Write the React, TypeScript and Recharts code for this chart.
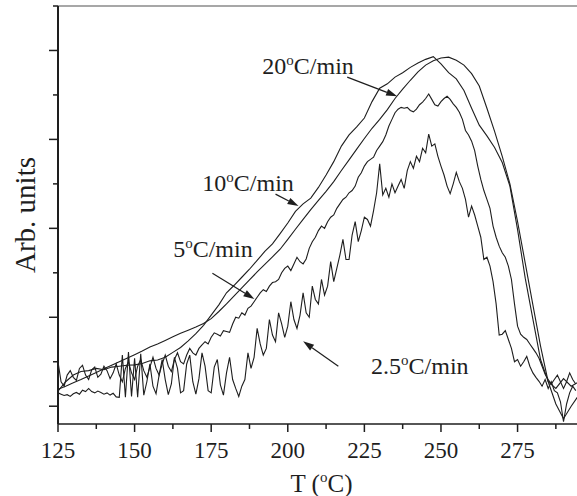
import { LineChart, Line, XAxis, YAxis, ReferenceLine, ReferenceDot } from 'recharts'

const FONT = '"Liberation Serif", "Times New Roman", Times, serif'
const INK = '#1e1e1e'

const T_START = 125

// 2.5 °C/min, one reading per °C from 125 °C
const rate25 = [
  0.30, 0.27, 0.24, 0.26, 0.22, 0.28, 0.31, 0.27, 0.36, 0.33,
  0.40, 0.33, 0.30, 0.34, 0.31, 0.27, 0.30, 0.25, 0.29, 0.21,
  0.20, 1.15, 0.20, 1.22, 0.22, 1.08, 0.20, 1.18, 0.25, 0.55,
  0.95, 0.45, 0.28, 0.70, 1.05, 0.60, 0.26, 0.50, 1.10, 0.85,
  0.30, 0.35, 0.95, 1.15, 0.55, 0.27, 0.62, 1.20, 0.90, 0.35,
  0.30, 0.88, 1.05, 0.48, 0.25, 0.75, 1.10, 0.60, 0.40, 0.22,
  0.45, 0.60, 1.20, 0.85, 1.10, 1.75, 1.40, 1.15, 1.30, 1.95,
  1.60, 1.45, 2.10, 1.85, 1.55, 1.80, 2.35, 1.95, 1.75, 2.05,
  2.55, 2.10, 2.00, 2.70, 2.40, 2.30, 2.85, 2.50, 2.70, 3.25,
  2.80, 3.10, 3.40, 3.75, 3.30, 3.30, 3.85, 4.15, 3.70, 3.95,
  4.25, 4.20, 4.05, 4.40, 4.80, 5.45, 4.75, 4.90, 4.70, 5.00,
  4.80, 4.95, 5.10, 4.90, 5.30, 5.50, 5.35, 5.62, 5.50, 5.80,
  5.70, 6.12, 5.85, 5.90, 5.62, 5.40, 5.20, 4.95, 4.78, 5.00,
  5.26, 5.05, 4.90, 4.65, 4.25, 4.50, 4.30, 4.05, 3.80, 3.30,
  3.35, 3.15, 2.80, 2.30, 1.60, 1.62, 1.70, 1.50, 1.30, 1.00,
  1.05, 0.90, 1.00, 1.12, 0.90, 0.75, 0.65, 0.56, 0.45, 0.60,
  0.40, 0.55, 0.35, 0.30, 0.10, -0.35, 0.05, 0.30, 0.45, 0.35,
]

// 5 °C/min, one reading per °C from 125 °C
const rate5 = [
  1.00, 0.55, 0.45, 0.70, 0.80, 0.65, 0.58, 0.85, 0.92, 0.70,
  0.60, 0.82, 0.88, 0.65, 0.72, 0.90, 0.80, 0.62, 0.75, 0.95,
  0.70, 0.55, 0.85, 1.00, 0.75, 0.60, 0.90, 1.05, 0.80, 0.65,
  0.88, 1.10, 0.85, 0.70, 0.95, 1.15, 0.90, 0.78, 1.05, 1.20,
  1.00, 0.95, 1.15, 1.30, 1.20, 1.15, 1.30, 1.38, 1.45, 1.40,
  1.55, 1.65, 1.62, 1.58, 1.70, 1.68, 1.66, 1.85, 2.00, 1.98,
  2.10, 2.05, 2.20, 2.25, 2.35, 2.45, 2.55, 2.62, 2.58, 2.70,
  2.78, 2.80, 2.85, 3.00, 3.10, 3.15, 3.05, 3.20, 3.35, 3.25,
  3.20, 3.31, 3.55, 3.70, 3.80, 3.95, 4.05, 4.00, 4.15, 4.25,
  4.30, 4.45, 4.55, 4.65, 4.70, 4.80, 4.85, 4.95, 5.15, 5.25,
  5.40, 5.50, 5.55, 5.60, 5.75, 5.85, 5.95, 6.10, 6.30, 6.45,
  6.60, 6.68, 6.72, 6.70, 6.72, 6.65, 6.62, 6.68, 6.78, 6.84,
  6.92, 7.02, 6.90, 6.78, 6.75, 6.85, 6.92, 6.97, 6.90, 6.80,
  6.72, 6.61, 6.45, 6.20, 6.10, 5.96, 5.75, 5.40, 5.10, 4.85,
  4.65, 4.45, 4.05, 3.80, 3.60, 3.45, 3.35, 3.15, 2.85, 2.30,
  1.80, 1.62, 1.55, 1.50, 1.40, 1.30, 1.20, 1.08, 0.90, 0.72,
  0.60, 0.50, 0.60, 0.70, 0.55, 0.40, 0.55, 0.75, 0.60, 0.50,
]

// 10 °C/min, every 2.5 °C from 125 °C
const rate10 = [
  0.34, 0.55, 0.70, 0.78, 0.80, 0.85, 0.82, 0.88, 0.90, 0.92,
  0.93, 0.96, 1.02, 1.04, 1.10, 1.21, 1.32, 1.47, 1.63, 1.82,
  2.05, 2.28, 2.55, 2.72, 2.90, 3.08, 3.28, 3.48, 3.65, 3.88,
  4.12, 4.38, 4.55, 4.68, 4.92, 5.20, 5.50, 5.85, 6.10, 6.28,
  6.48, 6.85, 7.15, 7.25, 7.40, 7.50, 7.62, 7.72, 7.80, 7.86,
  7.70, 7.50, 7.36, 7.10, 6.70, 6.32, 6.08, 5.82, 5.48, 4.95,
  3.97, 2.88, 1.96, 1.05, 0.55, 0.40, 0.62, 0.45, 0.55,
]

// 20 °C/min, every 2.5 °C from 125 °C
const rate20 = [
  0.38, 0.45, 0.53, 0.60, 0.68, 0.76, 0.84, 0.92, 1.00, 1.08,
  1.16, 1.24, 1.33, 1.40, 1.48, 1.56, 1.64, 1.71, 1.78, 1.86,
  1.97, 2.13, 2.30, 2.48, 2.66, 2.84, 3.02, 3.19, 3.36, 3.53,
  3.75, 3.98, 4.20, 4.42, 4.63, 4.83, 5.05, 5.30, 5.54, 5.78,
  6.02, 6.25, 6.45, 6.67, 6.92, 7.13, 7.33, 7.52, 7.67, 7.77,
  7.83, 7.85, 7.78, 7.67, 7.48, 7.20, 6.70, 6.18, 5.62, 5.00,
  4.15, 3.22, 2.28, 1.35, 0.55, 0.05, -0.28, 0.00, 0.25,
]

const xTicks = [125, 137.5, 150, 162.5, 175, 187.5, 200, 212.5, 225, 237.5, 250, 262.5, 275, 287.5]
const xMajor = [125, 150, 175, 200, 225, 250, 275]
const yTicks = [0, 1, 2, 3, 4, 5, 6, 7, 8, 9]

// annotation text anchors and arrows, in data units (T, arb.)
const notes = [
  { rate: '20', at: [191.7, 7.47], from: [219.4, 7.4], to: [235.7, 6.97] },
  { rate: '10', at: [172.1, 4.83], from: [196, 4.77], to: [203.5, 4.5] },
  { rate: '5', at: [162.6, 3.35], from: [175.4, 2.99], to: [189.1, 2.41] },
  { rate: '2.5', at: [227.2, 0.72], from: [216.5, 0.9], to: [205, 1.46] },
]

const toPoints = (vals: number[], step: number) =>
  vals.map((v, i) => ({ t: T_START + i * step, v }))

const series = [
  { key: 'r25', data: toPoints(rate25, 1) },
  { key: 'r5', data: toPoints(rate5, 1) },
  { key: 'r10', data: toPoints(rate10, 2.5) },
  { key: 'r20', data: toPoints(rate20, 2.5) },
]

function XTick({ x, y, payload }: any) {
  const major = xMajor.includes(payload.value)
  return (
    <g>
      <line x1={x} y1={y} x2={x} y2={y + (major ? 8 : 5)} stroke={INK} strokeWidth={1.5} />
      {major && (
        <text x={x} y={y + 34} textAnchor="middle" fontSize={23} fontFamily={FONT} fill={INK}>
          {payload.value}
        </text>
      )}
    </g>
  )
}

function YTick({ x, y, payload }: any) {
  const major = payload.value % 2 === 0
  return <line x1={x} y1={y} x2={x - (major ? 9 : 5)} y2={y} stroke={INK} strokeWidth={1.5} />
}

function XTitle({ viewBox }: any) {
  const cx = viewBox.x + viewBox.width / 2 + 4
  return (
    <text x={cx} y={viewBox.y + 68} textAnchor="middle" fontSize={25} fontFamily={FONT} fill={INK}>
      T (<tspan dy={-10} fontSize={15}>o</tspan>
      <tspan dy={10}>C)</tspan>
    </text>
  )
}

function YTitle({ viewBox }: any) {
  const cx = 25
  const cy = viewBox.y + viewBox.height / 2
  return (
    <text
      x={cx}
      y={cy}
      transform={`rotate(-90 ${cx} ${cy})`}
      textAnchor="middle"
      dominantBaseline="central"
      fontSize={29}
      fontFamily={FONT}
      fill={INK}
    >
      Arb. units
    </text>
  )
}

function Arrow(props: any) {
  const { x1, y1, x2, y2 } = props
  const ang = Math.atan2(y2 - y1, x2 - x1)
  const len = 11
  const half = 3.5
  const bx = x2 - len * Math.cos(ang)
  const by = y2 - len * Math.sin(ang)
  const px = -Math.sin(ang) * half
  const py = Math.cos(ang) * half
  return (
    <g>
      <line x1={x1} y1={y1} x2={bx} y2={by} stroke={INK} strokeWidth={1.2} />
      <polygon points={`${x2},${y2} ${bx + px},${by + py} ${bx - px},${by - py}`} fill={INK} />
    </g>
  )
}

function rateLabel(rate: string) {
  return (props: any) => (
    <text x={props.cx} y={props.cy} fontSize={24} fontFamily={FONT} fill={INK}>
      {rate}
      <tspan dy={-9} fontSize={15}>o</tspan>
      <tspan dy={9}>C/min</tspan>
    </text>
  )
}

export default function App() {
  return (
    <div style={{ width: 577, height: 496, background: '#fff' }}>
      <style>{'body{margin:0}'}</style>
      <LineChart width={577} height={496} margin={{ top: 6, right: 0, bottom: 0, left: 0 }}>
        <XAxis
          dataKey="t"
          type="number"
          domain={[125, 294.4]}
          ticks={xTicks}
          interval={0}
          allowDataOverflow
          height={72}
          tickSize={0}
          tickMargin={0}
          tickLine={false}
          tick={<XTick />}
          axisLine={{ stroke: INK, strokeWidth: 1.5 }}
          label={<XTitle />}
        />
        <YAxis
          dataKey="v"
          type="number"
          domain={[-0.4, 9]}
          ticks={yTicks}
          interval={0}
          allowDataOverflow
          width={58}
          tickSize={0}
          tickMargin={0}
          tickLine={false}
          tick={<YTick />}
          axisLine={{ stroke: INK, strokeWidth: 2 }}
          label={<YTitle />}
        />
        <ReferenceLine y={9} stroke="#8a8a8a" strokeWidth={1.5} />
        {series.map((s) => (
          <Line
            key={s.key}
            data={s.data}
            dataKey="v"
            type="linear"
            stroke={INK}
            strokeWidth={1.1}
            dot={false}
            activeDot={false}
            isAnimationActive={false}
          />
        ))}
        {notes.map((n) => (
          <ReferenceLine
            key={`a${n.rate}`}
            segment={[{ x: n.from[0], y: n.from[1] }, { x: n.to[0], y: n.to[1] }]}
            shape={Arrow}
          />
        ))}
        {notes.map((n) => (
          <ReferenceDot key={`t${n.rate}`} x={n.at[0]} y={n.at[1]} r={0} shape={rateLabel(n.rate)} />
        ))}
      </LineChart>
    </div>
  )
}
